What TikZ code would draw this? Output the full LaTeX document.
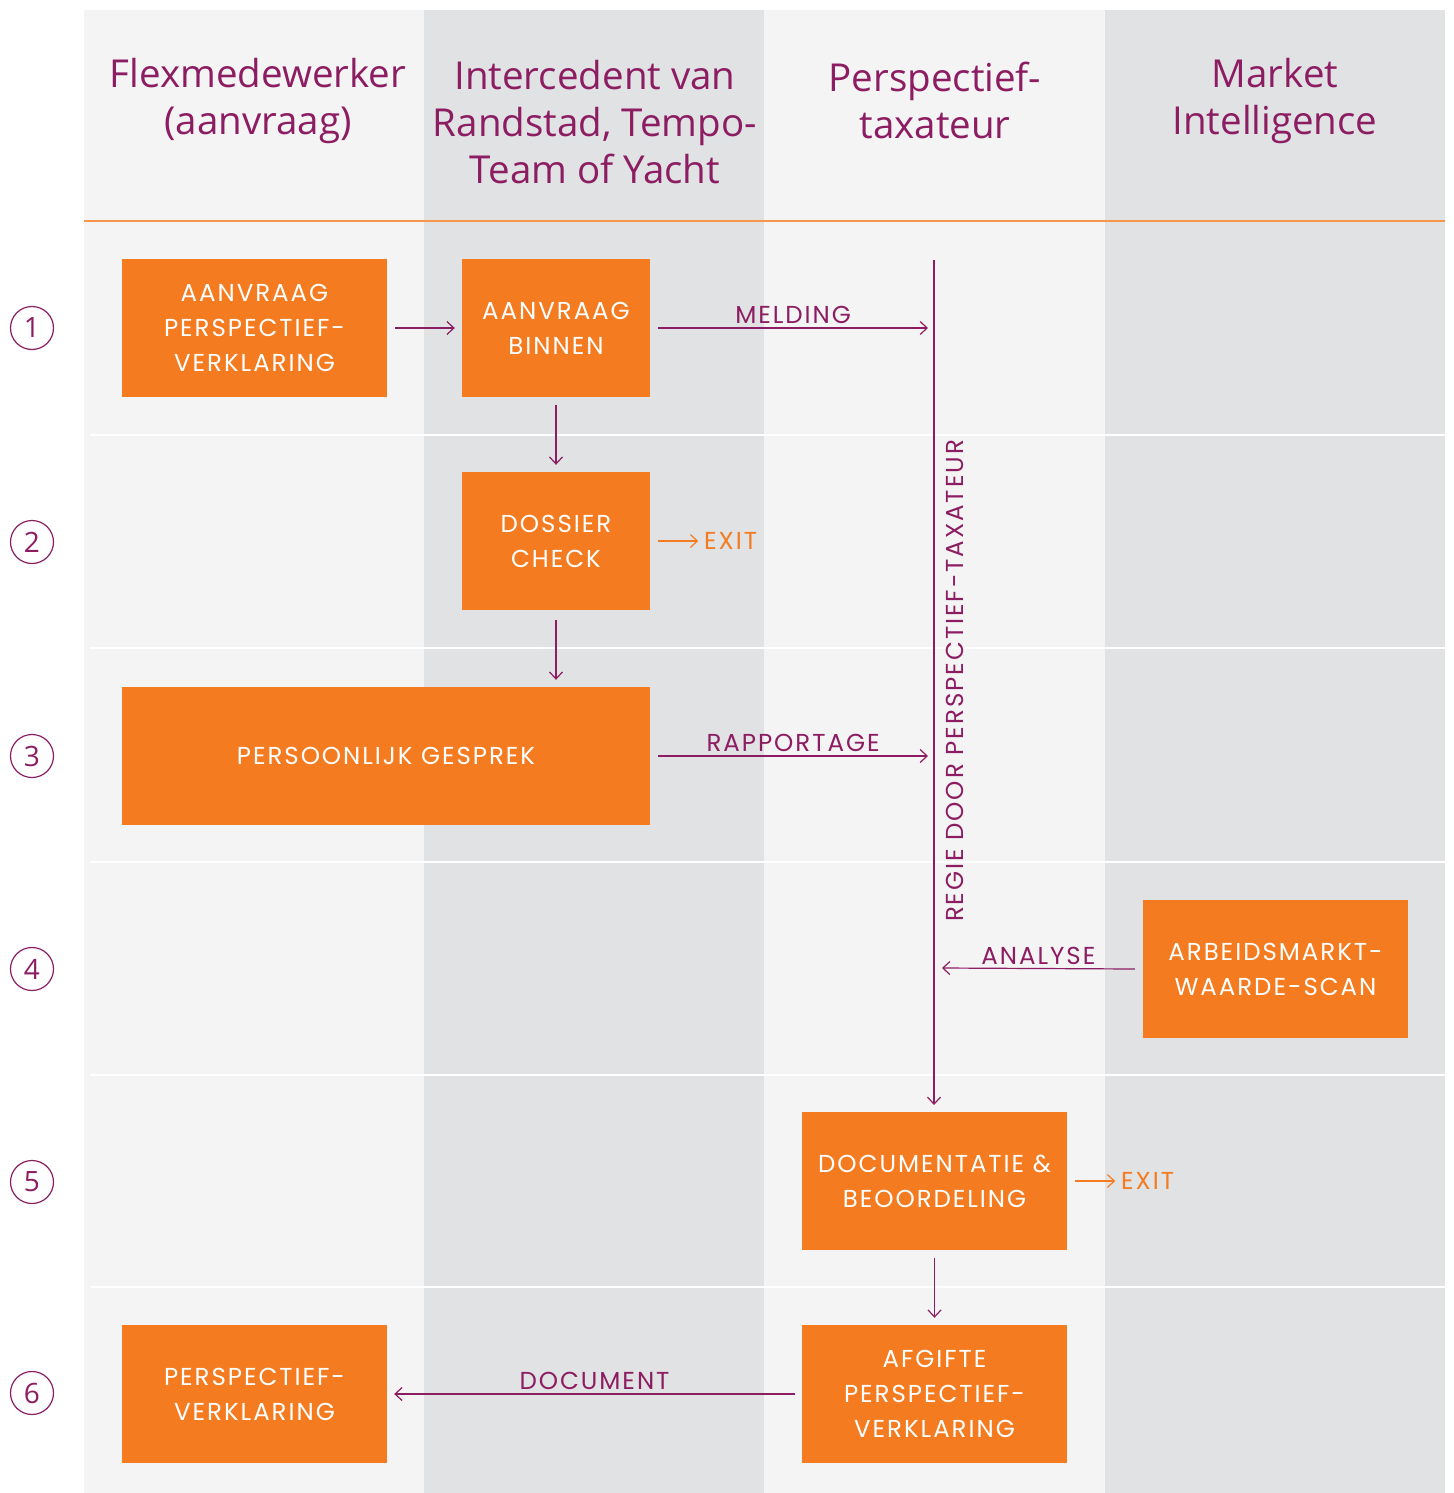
\documentclass[tikz,border=0pt]{standalone}
\usepackage{fontspec}
\setmainfont{Poppins}
\newfontfamily\stapfont{Poppins}[LetterSpace=8]
\newfontfamily\kopfont{Open Sans}
\usetikzlibrary{arrows.meta}

\definecolor{oranje}{HTML}{F47B20}
\definecolor{paars}{HTML}{8C1D62}
\definecolor{laanlicht}{HTML}{F4F4F4}
\definecolor{laandonker}{HTML}{E1E2E4}

\begin{document}
\begin{tikzpicture}[x=1pt, y=-1pt,
        stap/.style={rectangle, fill=oranje, text=white, inner sep=0pt, align=center,
            minimum height=138pt, font=\stapfont\fontsize{24.5}{35}\selectfont},
        kop/.style={text=paars, align=center, font=\kopfont\fontsize{38.5}{47}\selectfont},
        label/.style={text=paars, font=\stapfont\fontsize{24.5}{28}\selectfont},
        exitlabel/.style={text=oranje, font=\stapfont\fontsize{24.5}{28}\selectfont, anchor=west},
        pijl/.style={draw=paars, line width=1.2pt, -{Straight Barb[length=7pt,width=13pt]}},
        exitpijl/.style={draw=oranje, line width=1.2pt, -{Straight Barb[length=7pt,width=13pt]}},
        nummer/.style={circle, draw=paars, line width=1.2pt, minimum size=43pt, inner sep=0pt,
            text=paars, font=\kopfont\fontsize{28}{30}\selectfont}
    ]
    \useasboundingbox (0,0) rectangle (1453,1493);
    \fill[white] (0,0) rectangle (1453,1493);

    % banen
    \fill[laanlicht] (84,10) rectangle (424,1493);
    \fill[laandonker] (424,10) rectangle (764,1493);
    \fill[laanlicht] (764,10) rectangle (1105,1493);
    \fill[laandonker] (1105,10) rectangle (1445,1493);
    \draw[oranje!80, line width=1.2pt] (84,221) -- (1445,221);
    \foreach \y in {435,648,862,1075,1287}
        \draw[white, line width=1.2pt] (90,\y) -- (1445,\y);

    % koppen
    \node[kop] (kopflex) at (258,101) {Flexmedewerker\\(aanvraag)};
    \node[kop] (kopinter) at (595,122) {Intercedent van\\Randstad, Tempo-\\Team of Yacht};
    \node[kop] (koptax) at (935,100) {Perspectief-\\taxateur};
    \node[kop] (kopmarkt) at (1275,101) {Market\\Intelligence};

    % nummers
    \foreach \n/\y in {1/328, 2/542, 3/756, 4/969, 5/1182, 6/1393}
        \node[nummer] (nr\n) at (32,\y) {\n};

    % stappen
    \node[stap, minimum width=265pt] (aanvraag) at (254.5,328) {AANVRAAG\\PERSPECTIEF-\\VERKLARING};
    \node[stap, minimum width=188pt] (binnen) at (556,328) {AANVRAAG\\BINNEN};
    \node[stap, minimum width=188pt] (dossier) at (556,541) {DOSSIER\\CHECK};
    \node[stap, minimum width=528pt] (gesprek) at (386,756) {PERSOONLIJK GESPREK};
    \node[stap, minimum width=265pt] (scan) at (1275.5,969) {ARBEIDSMARKT-\\WAARDE-SCAN};
    \node[stap, minimum width=265pt] (docu) at (934.5,1181) {DOCUMENTATIE \&\\BEOORDELING};
    \node[stap, minimum width=265pt] (afgifte) at (934.5,1394) {AFGIFTE\\PERSPECTIEF-\\VERKLARING};
    \node[stap, minimum width=265pt] (verklaring) at (254.5,1394) {PERSPECTIEF-\\VERKLARING};

    % regielijn
    \coordinate (regiestart) at (934,260);
    \coordinate (regieeind) at (934,1105);
    \draw[pijl] (regiestart) -- (regieeind);
    \node[label, rotate=90] (regie) at (955,681) {REGIE DOOR PERSPECTIEF-TAXATEUR};
    \coordinate (melding) at (928,328);
    \coordinate (rapport) at (928,756);
    \coordinate (analyse) at (942,968);

    % pijlen
    \draw[pijl] ([xshift=8pt]aanvraag.east) -- ([xshift=-7pt]binnen.west);
    \draw[pijl] ([xshift=8pt]binnen.east) -- (melding)
        node[label, midway, above=0pt] {MELDING};
    \draw[pijl] ([yshift=-8pt]binnen.south) -- ([yshift=7pt]dossier.north);
    \draw[exitpijl] ([xshift=8pt]dossier.east) -- ++(40,0)
        node[exitlabel, right=2pt] (exit1) {EXIT};
    \draw[pijl] ([yshift=-10pt]dossier.south) -- ([yshift=7pt]gesprek.north east -| dossier.south);
    \draw[pijl] ([xshift=8pt]gesprek.east) -- (rapport)
        node[label, midway, above=0pt] {RAPPORTAGE};
    \draw[pijl] ([xshift=-8pt]scan.west) -- (analyse)
        node[label, pos=0.5, above=0pt] {ANALYSE};
    \draw[pijl] ([yshift=-8pt]docu.south) -- ([yshift=7pt]afgifte.north);
    \draw[exitpijl] ([xshift=8pt]docu.east) -- ++(40,0)
        node[exitlabel, right=2pt] (exit2) {EXIT};
    \draw[pijl] ([xshift=-7pt]afgifte.west) -- ([xshift=7pt]verklaring.east)
        node[label, midway, above=0pt] {DOCUMENT};
\end{tikzpicture}
\end{document}
